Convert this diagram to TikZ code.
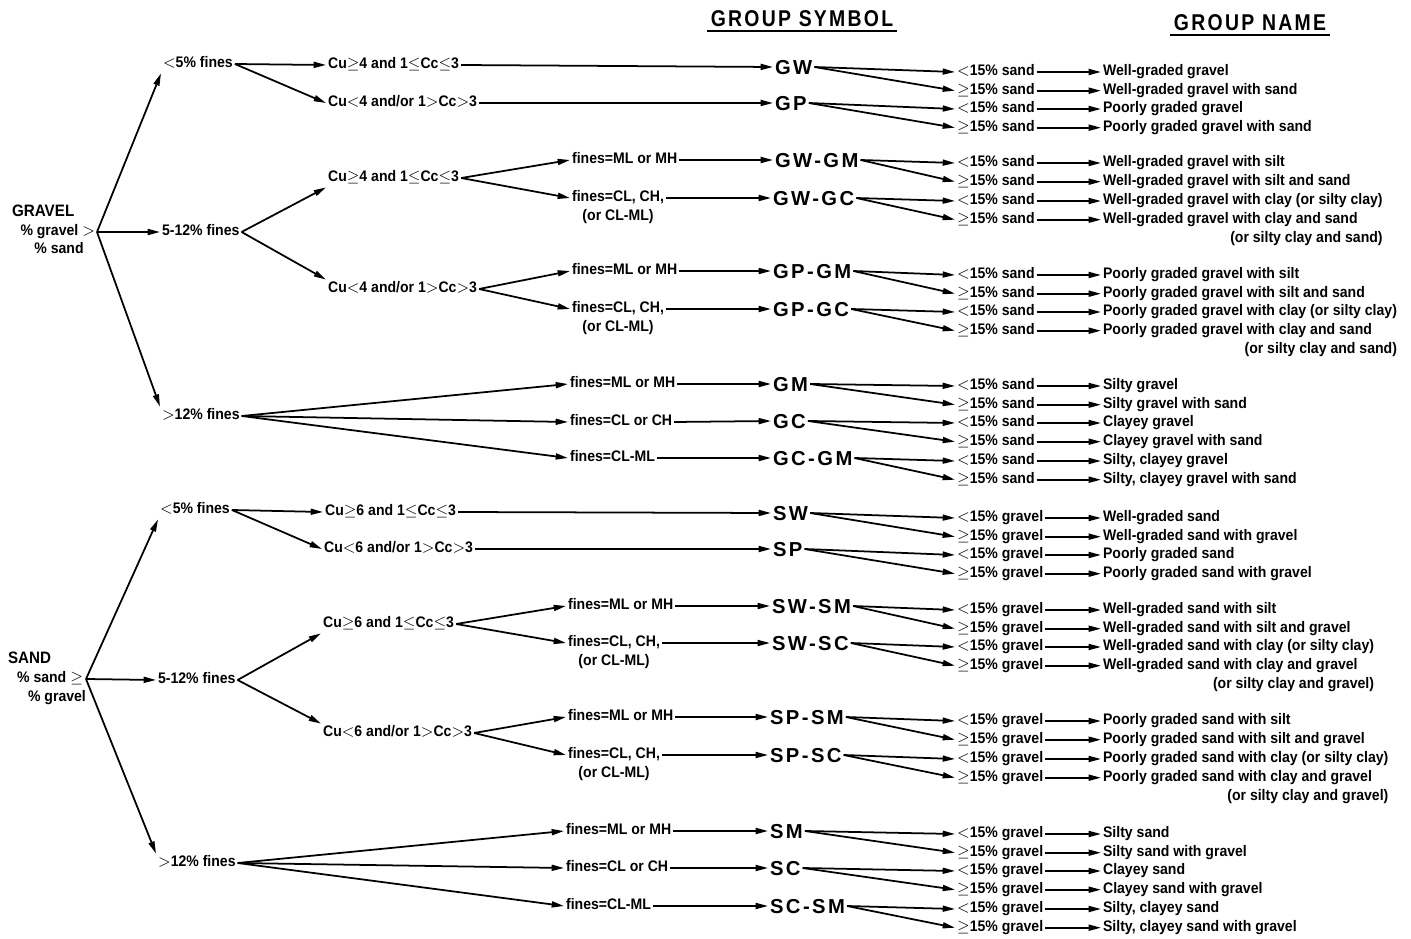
\documentclass[tikz,border=0pt]{standalone}
\usepackage{fontspec}
\setmainfont{Liberation Sans}[FakeStretch=0.92]
\newfontfamily\symfont[LetterSpace=12]{Liberation Sans}
\newfontfamily\headfont[LetterSpace=10, FakeStretch=0.85]{Liberation Sans}
\usetikzlibrary{positioning,arrows.meta}

\begin{document}
\begin{tikzpicture}[
		x=0.02cm, y=-0.02cm,
		node distance=0pt,
		txt/.style={font=\fontsize{8.7}{10}\selectfont\bfseries, inner sep=1pt, anchor=west, text height=6.4pt, text depth=1.9pt},
		grp/.style={font=\symfont\fontsize{11.5}{13}\selectfont\bfseries, inner sep=1pt, anchor=west, text height=8.3pt, text depth=0pt},
		head/.style={font=\headfont\fontsize{13}{15}\selectfont\bfseries, inner sep=2pt},
		arr/.style={-{Triangle[length=7pt,width=3.4pt]}, line width=1pt},
	]
		\useasboundingbox (0,0) rectangle (1411,939);

		\node [head] (hsym) at (802,19) {GROUP SYMBOL};
		\node [head] (hname) at (1250,23) {GROUP NAME};
		\draw [line width=1.3pt] (hsym.south west) -- (hsym.south east);
		\draw [line width=1.3pt] (hname.south west) -- (hname.south east);

		\node [txt, font=\fontsize{9.4}{11}\selectfont\bfseries] (gravel) at (10,213) {GRAVEL};
		\node [txt, anchor=east] (gravelpct) at (97,232) {\% gravel $>$};
		\node [txt, anchor=center] (gravelsand) at (59,250) {\% sand};
		\coordinate (gb) at (97,232);

		\node [txt] (g5) at (161,64) {$<$5\% fines};
		\node [txt] (g512) at (160,232) {5-12\% fines};
		\node [txt] (g12) at (160,416) {$>$12\% fines};
		\node [txt] (c1) at (326,65) {Cu$\geq$4 and 1$\leq$Cc$\leq$3};
		\node [txt] (c2) at (326,103) {Cu$<$4 and/or 1$>$Cc$>$3};
		\node [txt] (c3) at (326,178) {Cu$\geq$4 and 1$\leq$Cc$\leq$3};
		\node [txt] (c4) at (326,289) {Cu$<$4 and/or 1$>$Cc$>$3};
		\node [txt] (f1) at (570,160) {fines=ML or MH};
		\node [txt] (f2) at (570,198) {fines=CL, CH,};
		\node [txt, below=of f2] (f2b) {(or CL-ML)};
		\node [txt] (f3) at (570,271) {fines=ML or MH};
		\node [txt] (f4) at (570,309) {fines=CL, CH,};
		\node [txt, below=of f4] (f4b) {(or CL-ML)};
		\node [txt] (f5) at (568,384) {fines=ML or MH};
		\node [txt] (f6) at (568,422) {fines=CL or CH};
		\node [txt] (f7) at (568,458) {fines=CL-ML};

		\node [grp] (GW) at (773,67) {GW};
		\node [grp] (GP) at (773,103) {GP};
		\node [grp] (GW-GM) at (773,160) {GW-GM};
		\node [grp] (GW-GC) at (771,198) {GW-GC};
		\node [grp] (GP-GM) at (771,271) {GP-GM};
		\node [grp] (GP-GC) at (771,309) {GP-GC};
		\node [grp] (GM) at (771,384) {GM};
		\node [grp] (GC) at (771,421) {GC};
		\node [grp] (GC-GM) at (771,458) {GC-GM};

		\node [txt, font=\fontsize{9.4}{11}\selectfont\bfseries] (sand) at (6,660) {SAND};
		\node [txt, anchor=east] (sandpct) at (85,679) {\% sand $\geq$};
		\node [txt, anchor=east] (sandgr) at (88,698) {\% gravel};
		\coordinate (sb) at (86,679);

		\node [txt] (s5) at (158,510) {$<$5\% fines};
		\node [txt] (s512) at (156,680) {5-12\% fines};
		\node [txt] (s12) at (156,863) {$>$12\% fines};
		\node [txt] (c5) at (323,512) {Cu$\geq$6 and 1$\leq$Cc$\leq$3};
		\node [txt] (c6) at (322,549) {Cu$<$6 and/or 1$>$Cc$>$3};
		\node [txt] (c7) at (321,624) {Cu$\geq$6 and 1$\leq$Cc$\leq$3};
		\node [txt] (c8) at (321,733) {Cu$<$6 and/or 1$>$Cc$>$3};
		\node [txt] (f8) at (566,606) {fines=ML or MH};
		\node [txt] (f9) at (566,643) {fines=CL, CH,};
		\node [txt, below=of f9] (f9b) {(or CL-ML)};
		\node [txt] (f10) at (566,717) {fines=ML or MH};
		\node [txt] (f11) at (566,755) {fines=CL, CH,};
		\node [txt, below=of f11] (f11b) {(or CL-ML)};
		\node [txt] (f12) at (564,831) {fines=ML or MH};
		\node [txt] (f13) at (564,868) {fines=CL or CH};
		\node [txt] (f14) at (564,906) {fines=CL-ML};

		\node [grp] (SW) at (771,513) {SW};
		\node [grp] (SP) at (771,549) {SP};
		\node [grp] (SW-SM) at (770,606) {SW-SM};
		\node [grp] (SW-SC) at (770,643) {SW-SC};
		\node [grp] (SP-SM) at (768,717) {SP-SM};
		\node [grp] (SP-SC) at (768,755) {SP-SC};
		\node [grp] (SM) at (768,831) {SM};
		\node [grp] (SC) at (768,868) {SC};
		\node [grp] (SC-SM) at (768,906) {SC-SM};

		\draw [arr] (gb) -- (g5.south west);
		\draw [arr] (gb) -- (g512.west);
		\draw [arr] (gb) -- (g12.north west);
		\draw [arr] (sb) -- (s5.south west);
		\draw [arr] (sb) -- (s512.west);
		\draw [arr] (sb) -- (s12.north west);
		\draw [arr] (g512.east) -- (c3.south west);
		\draw [arr] (g512.east) -- (c4.north west);
		\draw [arr] (s512.east) -- (c7.south west);
		\draw [arr] (s512.east) -- (c8.north west);

		\foreach \a/\b in {g5/c1, g5/c2, c1/GW, c2/GP, c3/f1, c3/f2, c4/f3, c4/f4,
			g12/f5, g12/f6, g12/f7, f1/GW-GM, f2/GW-GC, f3/GP-GM, f4/GP-GC,
			f5/GM, f6/GC, f7/GC-GM,
			s5/c5, s5/c6, c5/SW, c6/SP, c7/f8, c7/f9, c8/f10, c8/f11,
			s12/f12, s12/f13, s12/f14, f8/SW-SM, f9/SW-SC, f10/SP-SM, f11/SP-SC,
			f12/SM, f13/SC, f14/SC-SM}
			\draw [arr] (\a.east) -- (\b.west);

		\foreach \s/\ya/\q/\na/\nb in {
			GW/72/sand/{Well-graded gravel}/{Well-graded gravel with sand},
			GP/109/sand/{Poorly graded gravel}/{Poorly graded gravel with sand},
			GW-GM/163/sand/{Well-graded gravel with silt}/{Well-graded gravel with silt and sand},
			GW-GC/201/sand/{Well-graded gravel with clay (or silty clay)}/{Well-graded gravel with clay and sand},
			GP-GM/275/sand/{Poorly graded gravel with silt}/{Poorly graded gravel with silt and sand},
			GP-GC/312/sand/{Poorly graded gravel with clay (or silty clay)}/{Poorly graded gravel with clay and sand},
			GM/386/sand/{Silty gravel}/{Silty gravel with sand},
			GC/423/sand/{Clayey gravel}/{Clayey gravel with sand},
			GC-GM/461/sand/{Silty, clayey gravel}/{Silty, clayey gravel with sand},
			SW/518/gravel/{Well-graded sand}/{Well-graded sand with gravel},
			SP/555/gravel/{Poorly graded sand}/{Poorly graded sand with gravel},
			SW-SM/610/gravel/{Well-graded sand with silt}/{Well-graded sand with silt and gravel},
			SW-SC/647/gravel/{Well-graded sand with clay (or silty clay)}/{Well-graded sand with clay and gravel},
			SP-SM/721/gravel/{Poorly graded sand with silt}/{Poorly graded sand with silt and gravel},
			SP-SC/759/gravel/{Poorly graded sand with clay (or silty clay)}/{Poorly graded sand with clay and gravel},
			SM/834/gravel/{Silty sand}/{Silty sand with gravel},
			SC/871/gravel/{Clayey sand}/{Clayey sand with gravel},
			SC-SM/909/gravel/{Silty, clayey sand}/{Silty, clayey sand with gravel}}
		{
			\node [txt] (\s-a) at (955,\ya) {$<$15\% \q};
			\node [txt] (\s-b) at (955,\ya+18.7) {$\geq$15\% \q};
			\node [txt] (\s-na) at (1101,\ya) {\na};
			\node [txt] (\s-nb) at (1101,\ya+18.7) {\nb};
			\draw [arr] (\s.east) -- (\s-a.west);
			\draw [arr] (\s.east) -- (\s-b.west);
			\draw [arr] (\s-a.east) -- (\s-na.west);
			\draw [arr] (\s-b.east) -- (\s-nb.west);
		}

		\node [txt, anchor=east] (GW-GC-nc) at ([yshift=-0.75cm]GW-GC-na.east) {(or silty clay and sand)};
		\node [txt, anchor=east] (GP-GC-nc) at ([yshift=-0.75cm]GP-GC-na.east) {(or silty clay and sand)};
		\node [txt, anchor=east] (SW-SC-nc) at ([yshift=-0.75cm]SW-SC-na.east) {(or silty clay and gravel)};
		\node [txt, anchor=east] (SP-SC-nc) at ([yshift=-0.75cm]SP-SC-na.east) {(or silty clay and gravel)};
	\end{tikzpicture}
\end{document}
